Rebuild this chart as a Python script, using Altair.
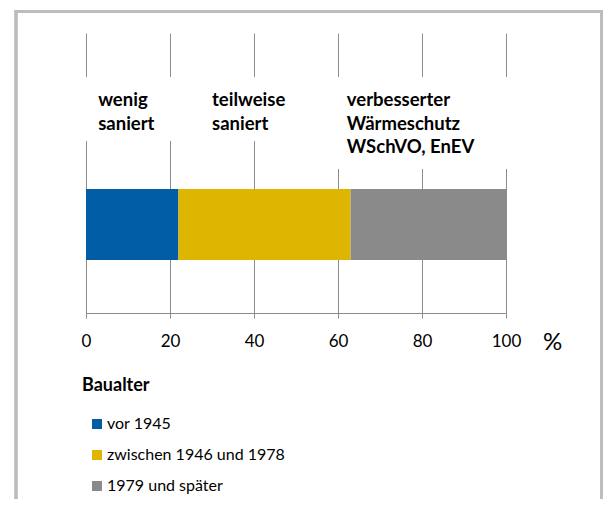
import altair as alt
import pandas as pd

# --- data -------------------------------------------------------------
categories = ["vor 1945", "zwischen 1946 und 1978", "1979 und später"]
shares = [22, 41, 37]
colors = ["#005DA6", "#DEB500", "#8A8A8A"]

label_texts = ["wenig\nsaniert", "teilweise\nsaniert", "verbesserter\nWärmeschutz\nWSchVO, EnEV"]
label_x = [2.9, 30.0, 62.1]

# white boxes behind the annotation text (data units on x, layout units on y)
box_x = [-2, 57]
box_x2 = [57, 102]
box_top = [44, 44]
box_bottom = [108, 136]

ticks = [0, 20, 40, 60, 80, 100]

FONT = "Lato"

bar_df = pd.DataFrame({"Baualter": categories, "share": shares, "order": [0, 1, 2]})
lab_df = pd.DataFrame({"text": label_texts, "x": label_x, "y": [58, 58, 58]})
box_df = pd.DataFrame({"x": box_x, "x2": box_x2, "y": box_top, "y2": box_bottom})

xscale = alt.Scale(domain=[0, 100], nice=False, zero=True)
yscale = alt.Scale(domain=[0, 280], reverse=True)

bars = alt.Chart(bar_df).mark_bar(size=71).encode(
    x=alt.X(
        "share:Q",
        stack="zero",
        scale=xscale,
        axis=alt.Axis(
            values=ticks,
            grid=True,
            gridColor="#8C8C8C",
            gridWidth=1,
            domainColor="#8C8C8C",
            domainWidth=1.2,
            tickColor="#8C8C8C",
            tickSize=5,
            labelFont=FONT,
            labelFontSize=17,
            labelColor="#000000",
            labelPadding=15,
            labelFlush=False,
            labelOverlap=False,
            title="%",
            titleFont=FONT,
            titleFontSize=24,
            titleFontWeight="normal",
            titleColor="#000000",
            titleX=466,
            titleY=29,
            titleAlign="center",
            titleBaseline="middle",
        ),
    ),
    y=alt.value(191.5),
    color=alt.Color(
        "Baualter:N",
        sort=categories,
        scale=alt.Scale(domain=categories, range=colors),
        legend=alt.Legend(
            title="Baualter",
            orient="none",
            legendX=-4,
            legendY=344,
            direction="vertical",
            symbolType="square",
            symbolSize=100,
            symbolStrokeWidth=0,
            symbolOffset=7,
            labelFont=FONT,
            labelFontSize=16,
            labelColor="#000000",
            labelOffset=2,
            labelLimit=0,
            rowPadding=15,
            titleFont=FONT,
            titleFontSize=18,
            titleFontWeight="bold",
            titleColor="#000000",
            titlePadding=21,
        ),
    ),
    order=alt.Order("order:Q"),
)

boxes = alt.Chart(box_df).mark_rect(fill="white").encode(
    x=alt.X("x:Q", scale=xscale),
    x2="x2:Q",
    y=alt.Y("y:Q", scale=yscale, axis=None),
    y2="y2:Q",
)

labels = alt.Chart(lab_df).mark_text(
    align="left",
    baseline="top",
    font=FONT,
    fontSize=18.5,
    fontWeight="bold",
    color="#000000",
    lineBreak="\n",
    lineHeight=23.5,
).encode(
    x=alt.X("x:Q", scale=xscale),
    y=alt.Y("y:Q", scale=yscale, axis=None),
    text="text:N",
)

border = alt.Chart(bar_df).mark_rect(
    filled=False, stroke="#BDBDBD", strokeWidth=3
).encode(
    x=alt.value(-70),
    x2=alt.value(515.5),
    y=alt.value(-21.5),
    y2=alt.value(520),
)

chart = (
    alt.layer(bars, boxes, labels, border)
    .properties(
        width=420,
        height=280,
        autosize=alt.AutoSizeParams(type="none"),
        padding={"left": 78, "top": 25, "right": 97, "bottom": 186},
        background="white",
    )
    .configure_view(stroke=None)
)

chart.save("out.html", embed_options={"renderer": "svg", "actions": False})
